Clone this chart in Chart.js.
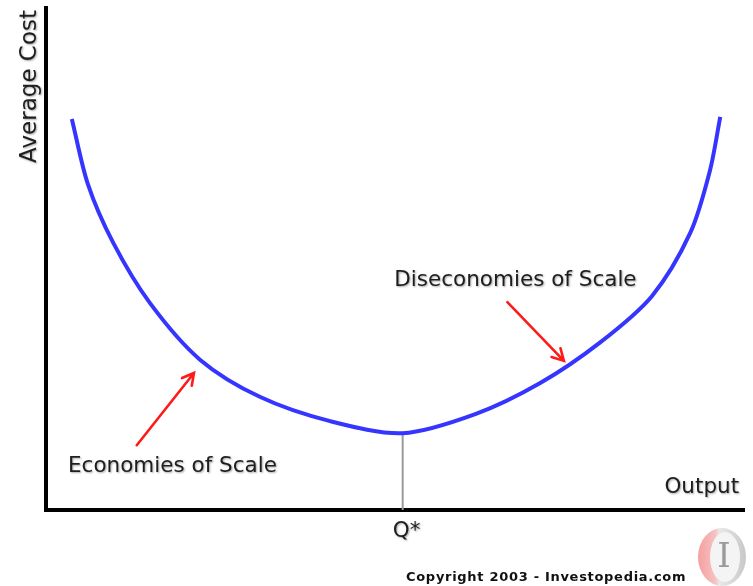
<!DOCTYPE html>
<html><head><meta charset="utf-8">
<script src="https://cdn.jsdelivr.net/npm/chart.js@4"></script>
<style>html,body{margin:0;padding:0;background:#fff}#wrap{width:753px;height:586px;position:relative}</style>
</head><body><div id="wrap"><canvas id="c" width="753" height="586"></canvas></div>
<script>
// Output (x) and average cost (y) (axis units 0..100)
const outputX     = [3.7, 6.0, 9.6, 14.9, 22.1, 30.7, 40.7, 51.1, 61.5, 70.8, 79.4, 86.8, 92.3, 95.1, 96.6];
const averageCost = [77.9, 64.9, 53.3, 41.2, 29.9, 22.5, 17.7, 15.3, 19.1, 25.3, 33.4, 42.6, 55.2, 67.5, 78.3];
const qStar = 51.1;
const qStarCost = 15.3;
// Arrows: [tail, head] in axis units
const arrowEconomies    = [[13.0, 12.9], [21.2, 27.3]];
const arrowDiseconomies = [[66.1, 41.4], [74.2, 29.7]];
const labelTexts = ["Economies of Scale", "Diseconomies of Scale", "Average Cost", "Output", "Q*", "Copyright 2003 - Investopedia.com"];

const LABEL_FONT = '"DejaVu Sans", sans-serif';

const annotate = {
  id: 'annotate',
  afterDraw(chart) {
    const ctx = chart.ctx, xs = chart.scales.x, ys = chart.scales.y;
    const px = v => xs.getPixelForValue(v), py = v => ys.getPixelForValue(v);
    function arrow(a) {
      const x1 = px(a[0][0]), y1 = py(a[0][1]), x2 = px(a[1][0]), y2 = py(a[1][1]);
      const ang = Math.atan2(y2 - y1, x2 - x1), L = 13, sp = 0.5;
      ctx.save();
      ctx.strokeStyle = '#ff1a1a'; ctx.lineWidth = 2.6; ctx.lineCap = 'round';
      ctx.beginPath(); ctx.moveTo(x1, y1); ctx.lineTo(x2, y2);
      ctx.moveTo(x2 - L * Math.cos(ang - sp), y2 - L * Math.sin(ang - sp));
      ctx.lineTo(x2, y2);
      ctx.lineTo(x2 - L * Math.cos(ang + sp), y2 - L * Math.sin(ang + sp));
      ctx.stroke(); ctx.restore();
    }
    arrow(arrowEconomies); arrow(arrowDiseconomies);

    ctx.save();
    ctx.fillStyle = '#1e1e1e';
    ctx.shadowColor = 'rgba(0,0,0,0.35)'; ctx.shadowBlur = 2; ctx.shadowOffsetX = 1; ctx.shadowOffsetY = 1;
    ctx.font = '21.5px ' + LABEL_FONT;
    ctx.textBaseline = 'alphabetic';
    ctx.textAlign = 'left';
    ctx.fillText(labelTexts[0], px(3.15), py(7.6));
    ctx.fillText(labelTexts[1], px(49.9), py(44.6));
    ctx.textAlign = 'right';
    ctx.fillText(labelTexts[3], px(99.3), py(3.4));
    ctx.textAlign = 'center';
    ctx.fillText(labelTexts[4], px(qStar) + 4, chart.chartArea.bottom + 27);
    ctx.save();
    ctx.font = '23px ' + LABEL_FONT;
    ctx.translate(chart.chartArea.left - 10, chart.chartArea.top + 2);
    ctx.rotate(-Math.PI / 2);
    ctx.textAlign = 'right';
    ctx.fillText(labelTexts[2], 0, 0);
    ctx.restore();
    ctx.restore();

    ctx.save();
    ctx.fillStyle = '#111';
    ctx.font = 'bold 13px "DejaVu Sans", sans-serif';
    ctx.letterSpacing = '0.7px';
    ctx.textAlign = 'left';
    ctx.fillText(labelTexts[5], 406, 581);
    ctx.letterSpacing = '0px';
    const cx = 722, cy = 557;
    const g = ctx.createLinearGradient(cx - 24, 0, cx + 24, 0);
    g.addColorStop(0, '#f4a0a0'); g.addColorStop(0.35, '#f6c0c0'); g.addColorStop(0.45, '#e8e8e8'); g.addColorStop(1, '#c8c8c8');
    ctx.fillStyle = g;
    ctx.beginPath(); ctx.ellipse(cx, cy, 24, 29, 0, 0, Math.PI * 2); ctx.fill();
    ctx.fillStyle = '#f4f4f4';
    ctx.beginPath(); ctx.ellipse(cx + 3, cy, 15, 25, 0, 0, Math.PI * 2); ctx.fill();
    ctx.fillStyle = '#9a9a9a';
    ctx.font = '34px "DejaVu Serif", serif';
    ctx.textAlign = 'center'; ctx.textBaseline = 'middle';
    ctx.fillText('I', cx + 2, cy + 1);
    ctx.restore();
  }
};

new Chart(document.getElementById('c'), {
  type: 'scatter',
  data: {
    datasets: [
      {
        data: outputX.map((x, i) => ({ x, y: averageCost[i] })),
        showLine: true, borderColor: '#3535ff', borderWidth: 4, pointRadius: 0,
        tension: 0.3, fill: false, order: 1
      },
      {
        data: [{ x: qStar, y: 0 }, { x: qStar, y: qStarCost }],
        showLine: true, borderColor: '#9a9a9a', borderWidth: 2, pointRadius: 0, order: 2
      }
    ]
  },
  options: {
    responsive: false, devicePixelRatio: 1, animation: false,
    layout: { padding: { left: 46, right: 9, top: 8, bottom: 76 } },
    plugins: { legend: { display: false }, tooltip: { enabled: false } },
    scales: {
      x: { type: 'linear', min: 0, max: 100, grid: { display: false, drawTicks: false }, ticks: { display: false },
           border: { display: true, color: '#000', width: 4 }, afterFit(s) { s.height = 0; } },
      y: { type: 'linear', min: 0, max: 100, grid: { display: false, drawTicks: false }, ticks: { display: false },
           border: { display: true, color: '#000', width: 4 }, afterFit(s) { s.width = 0; } }
    }
  },
  plugins: [annotate]
});
</script>
</body></html>
